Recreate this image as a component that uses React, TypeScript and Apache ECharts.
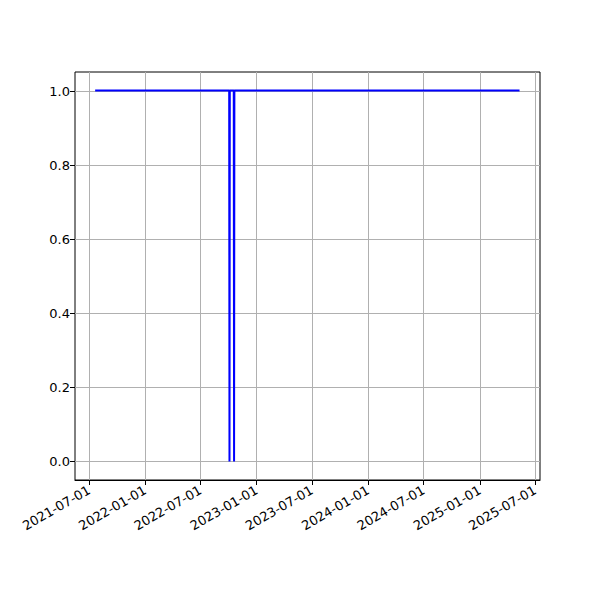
import React, { useEffect, useRef } from "react";
import * as echarts from "echarts";

const dates = [
  "2021-07-21", "2022-10-03", "2022-10-04", "2022-10-05",
  "2022-10-18", "2022-10-19", "2022-10-20", "2025-05-11",
];
const values = [1, 1, 0, 1, 1, 0, 1, 1];
const xTickLabels = [
  "2021-07-01", "2022-01-01", "2022-07-01", "2023-01-01", "2023-07-01",
  "2024-01-01", "2024-07-01", "2025-01-01", "2025-07-01",
];
const yTicks = [0, 0.2, 0.4, 0.6, 0.8, 1.0];
const xMin = "2021-05-16";
const xMax = "2025-07-17";

const ts = (s: string) => Date.parse(s + "T00:00:00Z");
const pad = (n: number) => (n < 10 ? "0" + n : "" + n);
const fmt = (v: number) => {
  const d = new Date(v);
  return d.getUTCFullYear() + "-" + pad(d.getUTCMonth() + 1) + "-" + pad(d.getUTCDate());
};

export default function App() {
  const ref = useRef<HTMLDivElement>(null);
  useEffect(() => {
    const chart = echarts.init(ref.current!, null, { renderer: "svg" });
    const xTicks = xTickLabels.map(ts);
    const font = "DejaVu Sans";
    chart.setOption({
      animation: false,
      backgroundColor: "#ffffff",
      grid: [
        { left: 75, top: 72, width: 465, height: 408, show: true, borderColor: "#000", borderWidth: 1, backgroundColor: "transparent", containLabel: false },
        { left: 75, top: 91, width: 465, height: 370, containLabel: false },
      ],
      xAxis: [
        {
          type: "value",
          gridIndex: 0,
          min: ts(xMin),
          max: ts(xMax),
          axisLine: { show: true, onZero: false, lineStyle: { color: "#000", width: 1 } },
          axisTick: { show: true, customValues: xTicks, length: 5, lineStyle: { color: "#000", width: 1 } },
          axisLabel: {
            customValues: xTicks,
            rotate: 30,
            margin: 9,
            color: "#000",
            fontSize: 13,
            fontFamily: font,
            formatter: (v: number) => fmt(v),
          },
          splitLine: { show: true, customValues: xTicks, lineStyle: { color: "#b0b0b0", width: 1 } },
        },
        {
          type: "value",
          gridIndex: 1,
          show: false,
          min: ts(xMin),
          max: ts(xMax),
        },
      ],
      yAxis: [
        {
          type: "value",
          gridIndex: 0,
          min: -0.05,
          max: 1.05,
          axisLine: { show: false },
          axisTick: { show: false },
          axisLabel: { show: false },
          splitLine: { show: false },
        },
        {
          type: "value",
          gridIndex: 1,
          min: 0,
          max: 1,
          interval: 0.2,
          axisLine: { show: false },
          axisTick: { show: true, customValues: yTicks, length: 5, lineStyle: { color: "#000", width: 1 } },
          axisLabel: {
            customValues: yTicks,
            color: "#000",
            fontSize: 13,
            fontFamily: font,
            margin: 5,
            formatter: (v: number) => v.toFixed(1),
          },
          splitLine: { show: true, lineStyle: { color: "#b0b0b0", width: 1 } },
        },
      ],
      series: [
        {
          type: "line",
          xAxisIndex: 0,
          yAxisIndex: 0,
          data: dates.map((d, i) => [ts(d), values[i]]),
          showSymbol: false,
          symbol: "none",
          lineStyle: { color: "#0000ff", width: 2 },
          z: 5,
        },
      ],
    });
    return () => chart.dispose();
  }, []);
  return <div ref={ref} style={{ width: 600, height: 600, position: "absolute", left: 0, top: 0 }} />;
}
